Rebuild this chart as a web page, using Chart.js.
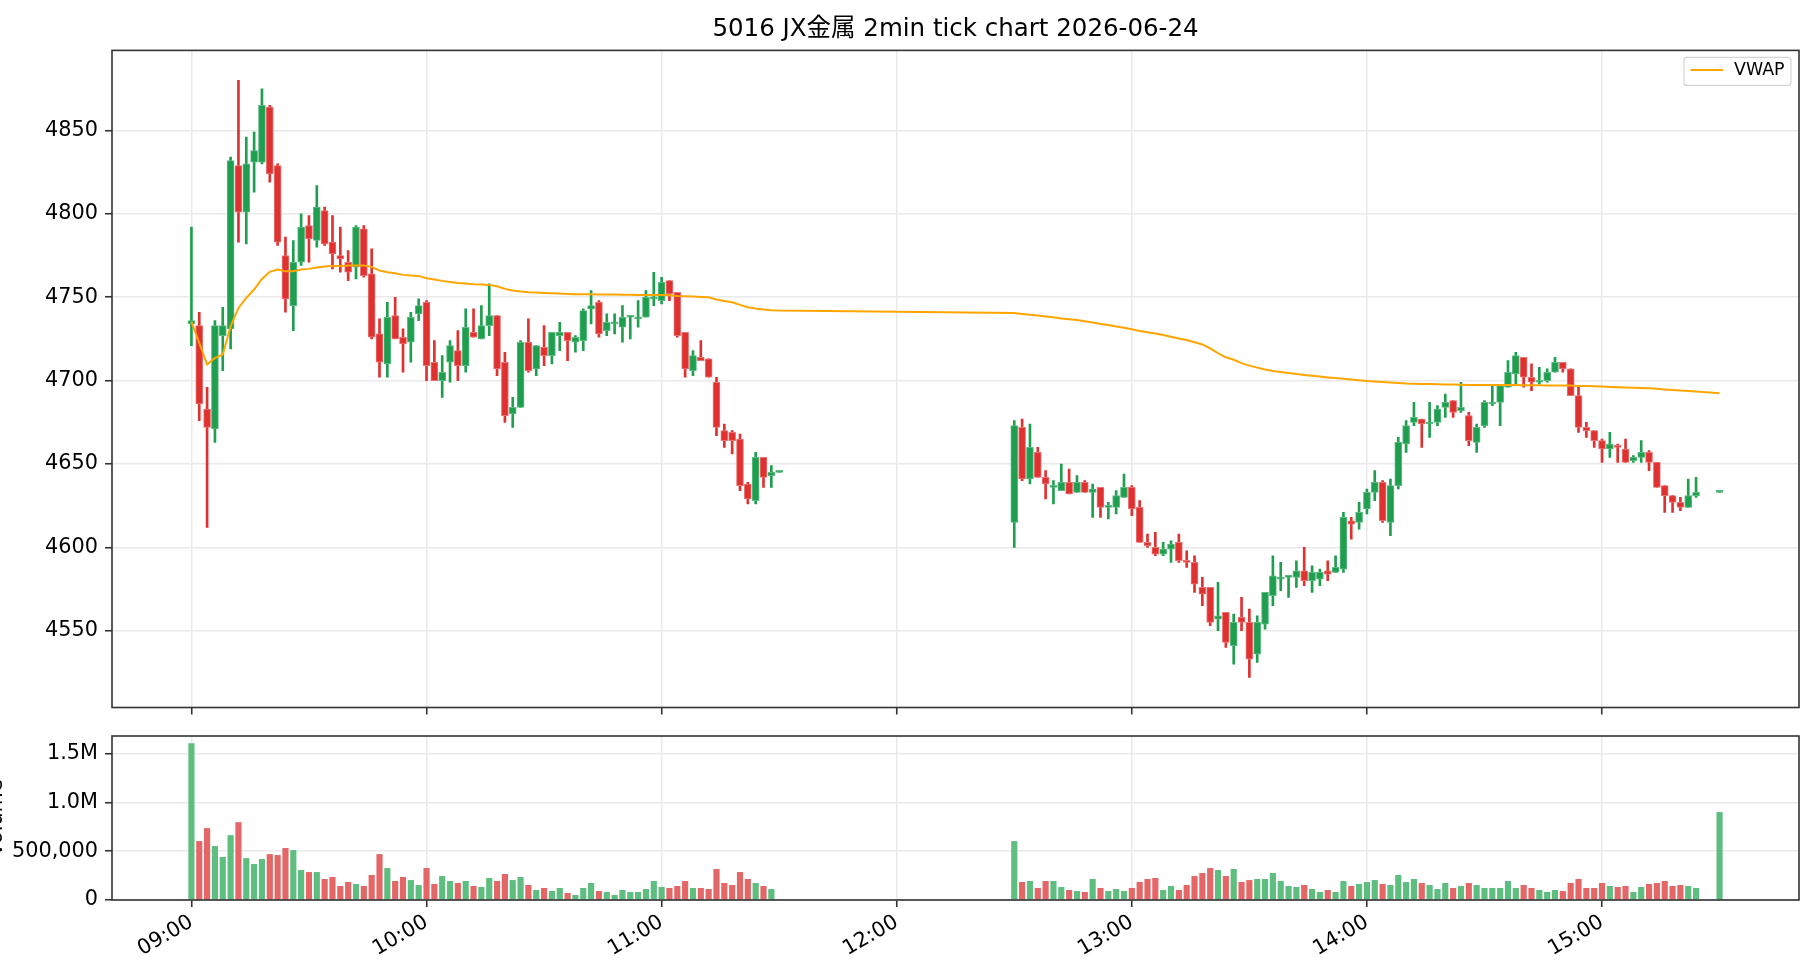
<!DOCTYPE html>
<html lang="ja">
<head>
<meta charset="UTF-8">
<title>5016 JX金属 2min tick chart 2026-06-24</title>
<script src="https://cdn.jsdelivr.net/npm/chart.js"></script>
<style>
  body { margin: 0; width: 1820px; height: 980px; overflow: hidden; background: #fff; position: relative; }
  canvas { position: absolute; top: 0; }
  #priceChart { left: 0; }
  #volumeChart { left: -20px; }
</style>
</head>
<body>
<canvas id="priceChart" width="1820" height="980"></canvas>
<canvas id="volumeChart" width="1840" height="980"></canvas>
<script>
// bar times (2 min bars), morning + afternoon session
const times = [
  '09:00','09:02','09:04','09:06','09:08','09:10','09:12','09:14','09:16','09:18',
  '09:20','09:22','09:24','09:26','09:28','09:30','09:32','09:34','09:36','09:38',
  '09:40','09:42','09:44','09:46','09:48','09:50','09:52','09:54','09:56','09:58',
  '10:00','10:02','10:04','10:06','10:08','10:10','10:12','10:14','10:16','10:18',
  '10:20','10:22','10:24','10:26','10:28','10:30','10:32','10:34','10:36','10:38',
  '10:40','10:42','10:44','10:46','10:48','10:50','10:52','10:54','10:56','10:58',
  '11:00','11:02','11:04','11:06','11:08','11:10','11:12','11:14','11:16','11:18',
  '11:20','11:22','11:24','11:26','11:28','11:30',
  '12:30','12:32','12:34','12:36','12:38','12:40','12:42','12:44','12:46','12:48',
  '12:50','12:52','12:54','12:56','12:58','13:00','13:02','13:04','13:06','13:08',
  '13:10','13:12','13:14','13:16','13:18','13:20','13:22','13:24','13:26','13:28',
  '13:30','13:32','13:34','13:36','13:38','13:40','13:42','13:44','13:46','13:48',
  '13:50','13:52','13:54','13:56','13:58','14:00','14:02','14:04','14:06','14:08',
  '14:10','14:12','14:14','14:16','14:18','14:20','14:22','14:24','14:26','14:28',
  '14:30','14:32','14:34','14:36','14:38','14:40','14:42','14:44','14:46','14:48',
  '14:50','14:52','14:54','14:56','14:58','15:00','15:02','15:04','15:06','15:08',
  '15:10','15:12','15:14','15:16','15:18','15:20','15:22','15:24','15:30'
];

const opens = [
  4734,4733,4683,4671,4727,4731,4829,4801,4831,4831,
  4864,4829,4775,4745,4771,4793,4784,4802,4783,4775,
  4771,4768,4791,4764,4728,4710,4739,4726,4723,4740,
  4747,4711,4700,4711,4718,4709,4729,4725,4733,4739,
  4711,4680,4684,4723,4707,4720,4715,4727,4729,4723,
  4724,4743,4747,4730,4734,4732,4738,4737,4738,4749,
  4748,4760,4753,4729,4706,4714,4713,4699,4670,4669,
  4665,4638,4628,4654,4643,4645,
  4615,4672,4641,4657,4642,4636,4634,4639,4633,4639,
  4633,4636,4624,4624,4630,4636,4624,4603,4600,4596,
  4599,4603,4592,4591,4576,4576,4557,4561,4541,4558,
  4555,4536,4554,4571,4581,4582,4582,4586,4580,4581,
  4586,4585,4587,4616,4615,4623,4633,4639,4615,4637,
  4662,4675,4677,4674,4675,4684,4688,4682,4679,4663,
  4673,4686,4687,4696,4704,4714,4702,4699,4700,4705,
  4711,4707,4691,4672,4670,4664,4659,4661,4659,4652,
  4654,4657,4651,4637,4631,4627,4624,4631,4633
];

const highs = [
  4792,4741,4696,4736,4744,4834,4880,4846,4849,4875,
  4865,4830,4786,4784,4800,4799,4817,4804,4799,4792,
  4778,4793,4793,4779,4737,4747,4750,4731,4741,4749,
  4748,4724,4715,4724,4730,4743,4743,4745,4758,4739,
  4717,4690,4724,4737,4721,4733,4729,4735,4729,4727,
  4743,4754,4748,4740,4740,4745,4739,4748,4754,4765,
  4762,4760,4753,4729,4718,4724,4713,4702,4674,4670,
  4668,4639,4657,4654,4649,4645,
  4676,4677,4674,4660,4646,4640,4650,4647,4643,4640,
  4638,4636,4627,4634,4644,4637,4628,4608,4609,4603,
  4604,4608,4598,4595,4582,4576,4579,4561,4560,4570,
  4563,4559,4573,4595,4591,4583,4592,4600,4589,4587,
  4592,4595,4621,4618,4627,4635,4646,4640,4641,4666,
  4676,4687,4677,4687,4685,4692,4688,4699,4681,4674,
  4688,4697,4697,4712,4717,4714,4710,4708,4707,4714,
  4711,4707,4696,4675,4670,4665,4669,4662,4665,4655,
  4664,4658,4651,4637,4631,4630,4641,4642,4633
];

const lows = [
  4721,4676,4612,4663,4706,4719,4783,4782,4813,4830,
  4819,4781,4741,4730,4769,4771,4780,4781,4767,4765,
  4760,4761,4762,4725,4702,4702,4725,4705,4711,4736,
  4700,4700,4690,4699,4700,4705,4726,4725,4727,4703,
  4675,4672,4684,4705,4703,4709,4710,4718,4712,4717,
  4718,4734,4726,4727,4728,4723,4725,4732,4738,4745,
  4746,4748,4726,4702,4703,4712,4702,4667,4660,4656,
  4634,4626,4626,4636,4636,4645,
  4600,4640,4638,4642,4629,4626,4634,4632,4633,4633,
  4618,4618,4617,4620,4630,4619,4603,4600,4595,4595,
  4591,4591,4588,4573,4565,4553,4550,4540,4530,4550,
  4522,4531,4551,4565,4574,4570,4576,4577,4573,4577,
  4580,4585,4585,4605,4611,4620,4628,4615,4607,4635,
  4657,4673,4660,4666,4673,4678,4678,4681,4661,4657,
  4672,4685,4673,4696,4698,4696,4694,4698,4699,4705,
  4705,4691,4669,4666,4660,4651,4654,4651,4651,4651,
  4651,4646,4636,4621,4621,4622,4624,4630,4633
];

const closes = [
  4736,4686,4672,4733,4733,4832,4801,4830,4838,4865,
  4824,4783,4749,4771,4792,4785,4804,4782,4776,4773,
  4765,4792,4763,4726,4711,4738,4725,4722,4738,4745,
  4709,4700,4705,4721,4709,4732,4726,4733,4739,4707,
  4679,4684,4723,4706,4721,4715,4729,4729,4724,4726,
  4742,4745,4728,4735,4735,4738,4738,4738,4750,4750,
  4759,4752,4727,4707,4715,4712,4702,4672,4664,4664,
  4637,4629,4654,4642,4645,4645,
  4673,4641,4660,4642,4638,4637,4639,4632,4639,4633,
  4635,4624,4624,4631,4636,4623,4603,4601,4596,4599,
  4602,4592,4591,4578,4572,4555,4559,4543,4555,4555,
  4533,4555,4573,4583,4582,4583,4586,4580,4585,4585,
  4584,4588,4618,4614,4621,4633,4639,4616,4637,4663,
  4673,4678,4674,4675,4683,4687,4681,4684,4664,4672,
  4687,4687,4697,4705,4715,4702,4699,4700,4705,4711,
  4707,4691,4672,4670,4664,4659,4662,4660,4651,4654,
  4657,4651,4636,4631,4627,4624,4631,4633,4633
];

const volumes = [
  1602000,600000,733000,549000,437000,661000,794000,426000,365000,416000,
  467000,457000,529000,508000,304000,283000,283000,212000,232000,140000,
  181000,161000,140000,253000,467000,324000,191000,232000,201000,150000,
  324000,161000,242000,191000,171000,191000,140000,130000,222000,191000,
  263000,201000,232000,150000,99000,120000,89000,120000,69000,48000,
  120000,171000,89000,79000,48000,99000,79000,79000,109000,191000,
  130000,120000,140000,191000,120000,120000,109000,314000,171000,150000,
  283000,212000,171000,140000,109000,0,
  600000,181000,191000,120000,191000,191000,130000,99000,89000,79000,
  212000,120000,89000,109000,89000,120000,181000,212000,222000,99000,
  140000,99000,150000,242000,273000,324000,304000,242000,314000,181000,
  201000,212000,212000,273000,191000,140000,130000,150000,109000,79000,
  99000,79000,191000,140000,161000,181000,201000,161000,150000,253000,
  181000,212000,171000,150000,109000,171000,120000,140000,171000,150000,
  120000,120000,120000,191000,120000,150000,120000,99000,79000,99000,
  89000,171000,212000,120000,120000,171000,140000,130000,140000,79000,
  130000,161000,171000,191000,140000,150000,140000,120000,897000
];

const vwap = [
  4735.2,4722.6,4709.6,4713.6,4715.6,4732.6,4743.6,4749.6,4754.6,4761.0,
  4765.2,4766.6,4765.6,4765.6,4766.6,4767.0,4767.8,4768.4,4768.8,4768.8,
  4769.0,4769.0,4769.0,4768.2,4766.0,4765.0,4764.4,4763.4,4763.0,4762.8,
  4761.4,4760.6,4759.8,4759.2,4758.6,4758.2,4757.8,4757.6,4757.4,4756.6,
  4755.0,4754.0,4753.4,4753.0,4752.8,4752.6,4752.4,4752.2,4752.0,4751.8,
  4751.8,4751.8,4751.7,4751.6,4751.6,4751.5,4751.5,4751.4,4751.4,4751.4,
  4751.4,4751.2,4750.8,4750.6,4750.4,4750.2,4750.0,4748.6,4747.8,4747.0,
  4745.4,4744.0,4743.2,4742.6,4742.2,4742.0,
  4740.5,4740.0,4739.5,4739.0,4738.5,4738.0,4737.3,4736.8,4736.3,4735.6,
  4734.8,4734.0,4733.3,4732.5,4731.7,4730.8,4729.8,4729.0,4728.2,4727.3,
  4726.3,4725.3,4724.3,4723.0,4721.7,4719.3,4716.5,4714.0,4712.5,4710.5,
  4709.0,4707.8,4706.7,4705.8,4705.1,4704.5,4704.0,4703.4,4702.9,4702.4,
  4701.9,4701.5,4701.1,4700.6,4700.2,4699.8,4699.4,4699.1,4698.8,4698.5,
  4698.2,4698.1,4698.0,4697.9,4697.8,4697.7,4697.6,4697.5,4697.4,4697.4,
  4697.4,4697.3,4697.3,4697.3,4697.3,4697.2,4697.2,4697.2,4697.1,4697.1,
  4697.1,4697.0,4696.8,4696.7,4696.6,4696.4,4696.2,4696.0,4695.9,4695.7,
  4695.6,4695.4,4695.1,4694.7,4694.4,4694.1,4693.8,4693.5,4692.4
];

const tickTimes = ['09:00','10:00','11:00','12:00','13:00','14:00','15:00'];
const priceTicks = [4550, 4600, 4650, 4700, 4750, 4800, 4850];
const volumeTicks = [0, 500000, 1000000, 1500000];

const UP = '#1f9e4f', DOWN = '#e03131';
const UP_EDGE = '#5bbb82', DOWN_EDGE = '#ea7474';
const VOL_UP = '#5dbe80', VOL_DOWN = '#e46666';
const GRID = '#e9e9e9', FRAME = '#333333';
const XMIN = -20.27, XMAX = 410.27;
const FONT = 20.8;
const FAMILY = "'DejaVu Sans', 'Noto Sans CJK JP', sans-serif";

Chart.defaults.font.family = FAMILY;
Chart.defaults.color = '#000';

// minutes since 09:00
const toMin = t => { const [h, m] = t.split(':').map(Number); return (h - 9) * 60 + m; };
const xs = times.map(toMin);
const isUp = i => closes[i] >= opens[i];

const frame = {
  id: 'frame',
  afterDraw(chart) {
    const { ctx, chartArea: a } = chart;
    ctx.save();
    ctx.strokeStyle = FRAME;
    ctx.lineWidth = 1.6;
    ctx.strokeRect(a.left, a.top, a.right - a.left, a.bottom - a.top);
    ctx.restore();
  }
};

// legend box in the top right corner of the plot
const vwapLegend = {
  id: 'vwapLegend',
  afterDraw(chart) {
    const ds = chart.data.datasets[0];
    const { ctx, chartArea: a } = chart;
    const w = 107, h = 28, x = a.right - 8 - w, y = a.top + 7;
    ctx.save();
    ctx.fillStyle = 'rgba(255,255,255,0.8)';
    ctx.strokeStyle = '#d4d4d4';
    ctx.lineWidth = 1.2;
    ctx.beginPath();
    ctx.roundRect(x, y, w, h, 3);
    ctx.fill();
    ctx.stroke();
    ctx.strokeStyle = ds.borderColor;
    ctx.lineWidth = ds.borderWidth;
    ctx.beginPath();
    ctx.moveTo(x + 6.5, y + 12.5);
    ctx.lineTo(x + 39, y + 12.5);
    ctx.stroke();
    ctx.fillStyle = '#000';
    ctx.font = '17.4px ' + FAMILY;
    ctx.textBaseline = 'middle';
    ctx.fillText(ds.label, x + 50, y + 13);
    ctx.restore();
  }
};

function xScale(showLabels) {
  return {
    type: 'linear',
    min: XMIN,
    max: XMAX,
    offset: false,
    afterBuildTicks: s => { s.ticks = tickTimes.map(t => ({ value: toMin(t) })); },
    afterFit: s => { s.height = showLabels ? 70 : 10; },
    border: { display: false },
    grid: { offset: false, color: GRID, lineWidth: 1.5, tickLength: 7, tickColor: FRAME, tickWidth: 1.6 },
    ticks: {
      display: showLabels,
      autoSkip: false,
      minRotation: 30,
      maxRotation: 30,
      padding: 3,
      font: { size: FONT },
      callback: (v, i) => tickTimes[i]
    }
  };
}

function yGrid() {
  return { color: GRID, lineWidth: 1.5, tickLength: 7, tickColor: FRAME, tickWidth: 1.6 };
}

new Chart(document.getElementById('priceChart'), {
  type: 'bar',
  data: {
    datasets: [
      {
        type: 'line',
        label: 'VWAP',
        data: xs.map((x, i) => ({ x, y: vwap[i] })),
        borderColor: '#ffa500',
        borderWidth: 2,
        pointRadius: 0,
        tension: 0,
        order: 0
      },
      {
        label: 'body',
        data: xs.map((x, i) => ({ x, y: [opens[i], closes[i]] })),
        backgroundColor: c => isUp(c.dataIndex) ? UP : DOWN,
        borderColor: c => isUp(c.dataIndex) ? UP_EDGE : DOWN_EDGE,
        borderWidth: 1,
        borderSkipped: false,
        barThickness: 7,
        minBarLength: 2,
        grouped: false,
        order: 1
      },
      {
        label: 'wick',
        data: xs.map((x, i) => ({ x, y: [lows[i], highs[i]] })),
        backgroundColor: c => isUp(c.dataIndex) ? UP : DOWN,
        barThickness: 2,
        grouped: false,
        order: 2
      }
    ]
  },
  options: {
    responsive: false,
    animation: false,
    devicePixelRatio: 1,
    layout: { padding: { left: 0, right: 21, top: 0, bottom: 262.5 } },
    plugins: {
      legend: { display: false },
      tooltip: { enabled: false },
      title: {
        display: true,
        fullSize: false,
        text: '5016 JX金属 2min tick chart 2026-06-24',
        font: { size: 24.5, weight: 'normal' },
        color: '#000',
        padding: { top: 15, bottom: 6 }
      }
    },
    scales: {
      x: xScale(false),
      y: {
        min: 4504,
        max: 4898,
        afterFit: s => { s.width = 112; },
        afterBuildTicks: s => { s.ticks = priceTicks.map(v => ({ value: v })); },
        border: { display: false },
        grid: yGrid(),
        ticks: { padding: 7, font: { size: FONT }, callback: v => String(v) }
      }
    }
  },
  plugins: [frame, vwapLegend]
});

new Chart(document.getElementById('volumeChart'), {
  type: 'bar',
  data: {
    datasets: [{
      label: 'Volume',
      data: xs.map((x, i) => ({ x, y: volumes[i] })),
      backgroundColor: c => isUp(c.dataIndex) ? VOL_UP : VOL_DOWN,
      barThickness: 5.5,
      grouped: false
    }]
  },
  options: {
    responsive: false,
    animation: false,
    devicePixelRatio: 1,
    layout: { padding: { left: 0, right: 21, top: 736, bottom: 10 } },
    plugins: { legend: { display: false }, tooltip: { enabled: false } },
    scales: {
      x: xScale(true),
      y: {
        min: 0,
        max: 1680000,
        afterFit: s => { s.width = 132; },
        afterBuildTicks: s => { s.ticks = volumeTicks.map(v => ({ value: v })); },
        border: { display: false },
        grid: yGrid(),
        title: { display: true, text: 'Volume', font: { size: FONT }, color: '#000', padding: { top: 4, bottom: 0 } },
        ticks: {
          padding: 7,
          font: { size: FONT },
          callback: v => v === 0 ? '0' : v < 1000000 ? v.toLocaleString('en-US') : (v / 1000000).toFixed(1) + 'M'
        }
      }
    }
  },
  plugins: [frame]
});
</script>
</body>
</html>
